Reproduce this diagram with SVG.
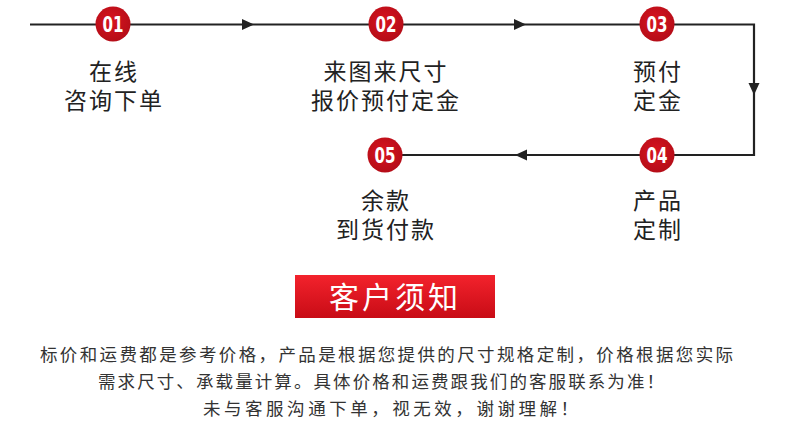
<svg xmlns="http://www.w3.org/2000/svg" width="790" height="445" viewBox="0 0 790 445">
<style>
.ln{fill:none;stroke:#222;stroke-width:2.2}
.ah{fill:#222}
.cir{fill:url(#rg)}
.num{font-family:"DejaVu Sans Condensed","Liberation Sans",sans-serif;font-weight:bold;font-size:22px;fill:#fff;text-anchor:middle}
.lbl{font-family:"Noto Sans CJK SC","Noto Sans",sans-serif;font-size:23px;fill:#222;text-anchor:middle;letter-spacing:2px}
.note{font-family:"Noto Sans CJK SC","Noto Sans",sans-serif;font-size:17.5px;fill:#333}
</style>
<defs>
<radialGradient id="rg" cx="0.45" cy="0.4" r="0.6">
<stop offset="0" stop-color="#d8141f"/>
<stop offset="1" stop-color="#b50d18"/>
</radialGradient>
<linearGradient id="bg" x1="0" y1="0" x2="0" y2="1">
<stop offset="0" stop-color="#f3222c"/>
<stop offset="1" stop-color="#c80c16"/>
</linearGradient>
</defs>
<rect width="790" height="445" fill="#fff"/>
<g id="connectors">
<polyline class="ln" points="30,24.5 754,24.5 754,155 400,155"/>
<polygon class="ah" points="242,19 254,24.5 242,30"/>
<polygon class="ah" points="514,19 526,24.5 514,30"/>
<polygon class="ah" points="748.5,83 754,95 759.5,83"/>
<polygon class="ah" points="527,149.5 515,155 527,160.5"/>
</g>
<g id="step1">
<circle class="cir" cx="113" cy="24" r="17.5"/>
<text class="num" x="113" y="32" textLength="21" lengthAdjust="spacingAndGlyphs">01</text>
<text class="lbl" x="114" y="80">在线</text>
<text class="lbl" x="114" y="109">咨询下单</text>
</g>
<g id="step2">
<circle class="cir" cx="386" cy="24" r="17.5"/>
<text class="num" x="386" y="32" textLength="21" lengthAdjust="spacingAndGlyphs">02</text>
<text class="lbl" x="386" y="80">来图来尺寸</text>
<text class="lbl" x="386" y="109">报价预付定金</text>
</g>
<g id="step3">
<circle class="cir" cx="657" cy="24" r="17.5"/>
<text class="num" x="657" y="32" textLength="21" lengthAdjust="spacingAndGlyphs">03</text>
<text class="lbl" x="658" y="80">预付</text>
<text class="lbl" x="658" y="109">定金</text>
</g>
<g id="step4">
<circle class="cir" cx="657" cy="155" r="17.5"/>
<text class="num" x="657" y="163" textLength="21" lengthAdjust="spacingAndGlyphs">04</text>
<text class="lbl" x="658" y="209">产品</text>
<text class="lbl" x="658" y="238">定制</text>
</g>
<g id="step5">
<circle class="cir" cx="385" cy="155" r="17.5"/>
<text class="num" x="385" y="163" textLength="21" lengthAdjust="spacingAndGlyphs">05</text>
<text class="lbl" x="386" y="209">余款</text>
<text class="lbl" x="386" y="238">到货付款</text>
</g>
<g id="notice">
<rect x="295" y="275" width="200" height="43" fill="url(#bg)"/>
<text x="395" y="308" font-family="Noto Sans CJK SC,Noto Sans,sans-serif" font-size="30" fill="#fff" text-anchor="middle" letter-spacing="3">客户须知</text>
</g>
<g id="notes">
<text class="note" x="40" y="361" textLength="693">标价和运费都是参考价格，产品是根据您提供的尺寸规格定制，价格根据您实际</text>
<text class="note" x="98" y="388" textLength="566">需求尺寸、承载量计算。具体价格和运费跟我们的客服联系为准！</text>
<text class="note" x="203" y="415" textLength="375">未与客服沟通下单，视无效，谢谢理解！</text>
</g>
</svg>
